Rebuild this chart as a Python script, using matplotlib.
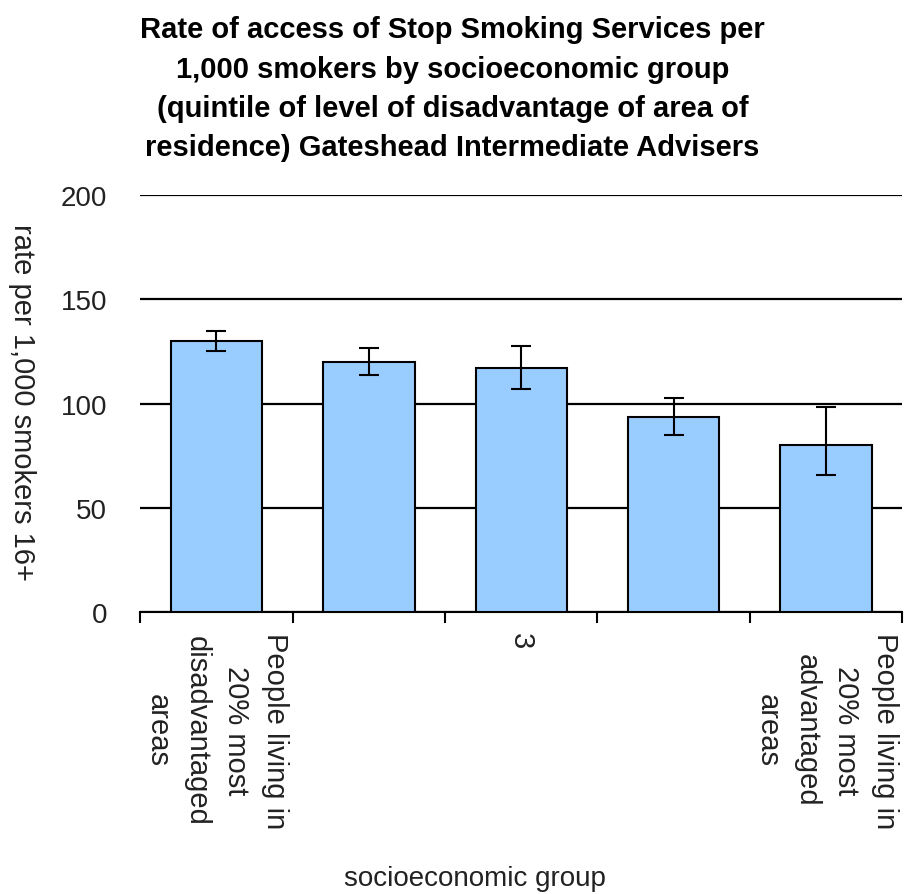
import matplotlib.pyplot as plt
import numpy as np

# data
categories = ["People living in\n20% most\ndisadvantaged\nareas", "", "3", "",
              "People living in\n20% most\nadvantaged\nareas"]
rates = [130, 120, 117, 93.5, 80]
err_low = [5, 6.5, 10, 8.5, 14.5]
err_high = [5, 6.5, 10.5, 9, 18.5]
yticks = [0, 50, 100, 150, 200]

title = ("Rate of access of Stop Smoking Services per\n"
         "1,000 smokers by socioeconomic group\n"
         "(quintile of level of disadvantage of area of\n"
         "residence) Gateshead Intermediate Advisers")

plt.rcParams['font.family'] = ['Liberation Sans', 'DejaVu Sans']

fig = plt.figure(figsize=(9.05, 8.95), dpi=100)
ax = fig.add_axes([0.155, 0.315, 0.842, 0.466])

x = np.arange(len(rates))
ax.bar(x, rates, width=0.6, color='#99ccff', edgecolor='black', linewidth=1.5,
       zorder=3)
ax.errorbar(x, rates, yerr=[err_low, err_high], fmt='none', ecolor='black',
            elinewidth=1.5, capsize=7, capthick=1.5, zorder=4)

ax.set_xlim(-0.5, len(rates) - 0.5)
ax.set_ylim(0, 200)
ax.set_yticks(yticks)
ax.yaxis.grid(True, color='black', linewidth=1.6, zorder=0)
ax.tick_params(axis='y', length=0, labelsize=20, pad=24, labelcolor='#222222')

# category boundaries get tick marks, labels sit at the centres
ax.set_xticks(np.arange(len(rates) + 1) - 0.5)
ax.set_xticklabels([])
ax.tick_params(axis='x', which='major', length=8, width=1.5, direction='out')
ax.set_xticks(x, minor=True)
ax.set_xticklabels(categories, minor=True, rotation=270, fontsize=21,
                   va='top', ha='center', multialignment='center',
                   linespacing=1.5, color='#222222')
ax.tick_params(axis='x', which='minor', length=0, pad=14)

for side in ['left', 'right', 'top']:
    ax.spines[side].set_visible(False)
ax.spines['bottom'].set_linewidth(1.5)

ax.set_ylabel("rate per 1,000 smokers 16+", rotation=270, fontsize=21,
              color='#222222', va='center')
ax.yaxis.set_label_coords(-0.155, 0.505)
fig.text(0.525, 0.003, "socioeconomic group", ha='center', va='bottom',
         fontsize=20, color='#222222')

fig.text(0.5, 0.982, title, ha='center', va='top', fontsize=21,
         fontweight='bold', linespacing=1.52)

fig.savefig('out.png', dpi=100, facecolor='white')
